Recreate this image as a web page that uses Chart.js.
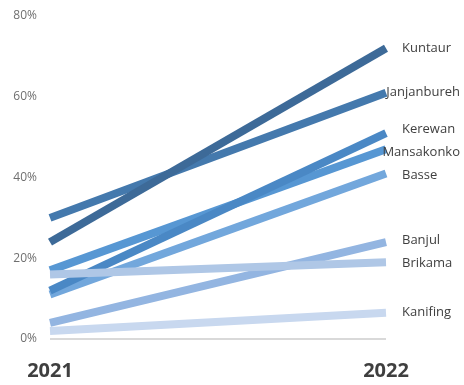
<!DOCTYPE html>
<html>
<head>
<meta charset="utf-8">
<script src="https://cdn.jsdelivr.net/npm/chart.js@4/dist/chart.umd.min.js"></script>
<style>
  html, body { margin: 0; padding: 0; background: #fff; }
  #wrap { width: 464px; height: 385px; position: relative; }
</style>
</head>
<body>
<div id="wrap"><canvas id="slope-chart"></canvas></div>
<script>
var years = ['2021', '2022'];
var regions = ['Kuntaur', 'Janjanbureh', 'Kerewan', 'Mansakonko', 'Basse', 'Banjul', 'Brikama', 'Kanifing'];
var values2021 = [24, 30, 12, 17, 11, 4, 16, 2];
var values2022 = [72, 61, 51, 47, 41, 24, 19, 6.5];
var yTicks = [0, 20, 40, 60, 80];

var colors = ['#3d6a98', '#4479ad', '#4a88c5', '#5797d3', '#72a7dc', '#93b5e1', '#afc7e6', '#c8d8ef'];
var drawOrder = [0, 4, 5, 6, 7, 3, 1, 2];

// labels at the right end of each line, pushed apart when they get too close
var endLabels = {
  id: 'endLabels',
  afterDatasetsDraw: function(chart){
    var ctx = chart.ctx;
    ctx.save();
    ctx.font = '13px "Open Sans"';
    ctx.fillStyle = '#404040';
    ctx.textBaseline = 'middle';
    var items = chart.data.datasets.map(function(ds, i){
      var pt = chart.getDatasetMeta(i).data[1];
      return { text: ds.label, y: pt.y };
    });
    items.sort(function(a, b){ return a.y - b.y; });
    for (var k = 0; k < 20; k++) {
      for (var j = 1; j < items.length; j++) {
        var gap = items[j].y - items[j-1].y;
        if (gap < 23) {
          var push = (23 - gap) / 2;
          items[j-1].y -= push;
          items[j].y += push;
        }
      }
    }
    items.forEach(function(it){
      var w = ctx.measureText(it.text).width;
      var x = Math.min(chart.chartArea.right + 16, chart.width - w - 4);
      ctx.fillText(it.text, x, it.y);
    });
    ctx.restore();
  }
};

var ctx = document.getElementById('slope-chart').getContext('2d');
var myChart = new Chart(ctx, {
  type: 'line',
  data: {
    labels: years,
    datasets: regions.map(function(name, i){
      return {
        label: name,
        data: [values2021[i], values2022[i]],
        borderColor: colors[i],
        backgroundColor: colors[i],
        borderWidth: 8,
        borderCapStyle: 'butt',
        pointRadius: 0,
        order: drawOrder[i],
        tension: 0
      };
    })
  },
  options: {
    responsive: true,
    maintainAspectRatio: false,
    animation: false,
    layout: { padding: { top: 16, right: 78, left: 0, bottom: 0 } },
    plugins: {
      legend: { display: false },
      tooltip: { enabled: false }
    },
    scales: {
      x: {
        offset: false,
        border: { display: false },
        grid: { display: false, drawTicks: false },
        ticks: {
          padding: 20,
          color: '#3f3f3f',
          font: { family: 'Open Sans', size: 20, weight: 'bold' },
          maxRotation: 0
        },
        afterFit: function(scale){ scale.height = 46; }
      },
      y: {
        min: 0,
        max: 80,
        border: { display: false },
        afterBuildTicks: function(scale){
          scale.ticks = yTicks.map(function(v){ return { value: v }; });
        },
        afterFit: function(scale){
          scale.width = 50;
          scale.paddingTop = 0;
          scale.paddingBottom = 0;
        },
        grid: {
          drawTicks: false,
          lineWidth: 2,
          color: function(c){ return c.tick && c.tick.value === 0 ? '#d9d9d9' : 'rgba(0,0,0,0)'; }
        },
        ticks: {
          padding: 13,
          color: '#6f6f6f',
          font: { family: 'Open Sans', size: 12 },
          callback: function(value){ return value + '%'; }
        }
      }
    }
  },
  plugins: [endLabels]
});
</script>
</body>
</html>
